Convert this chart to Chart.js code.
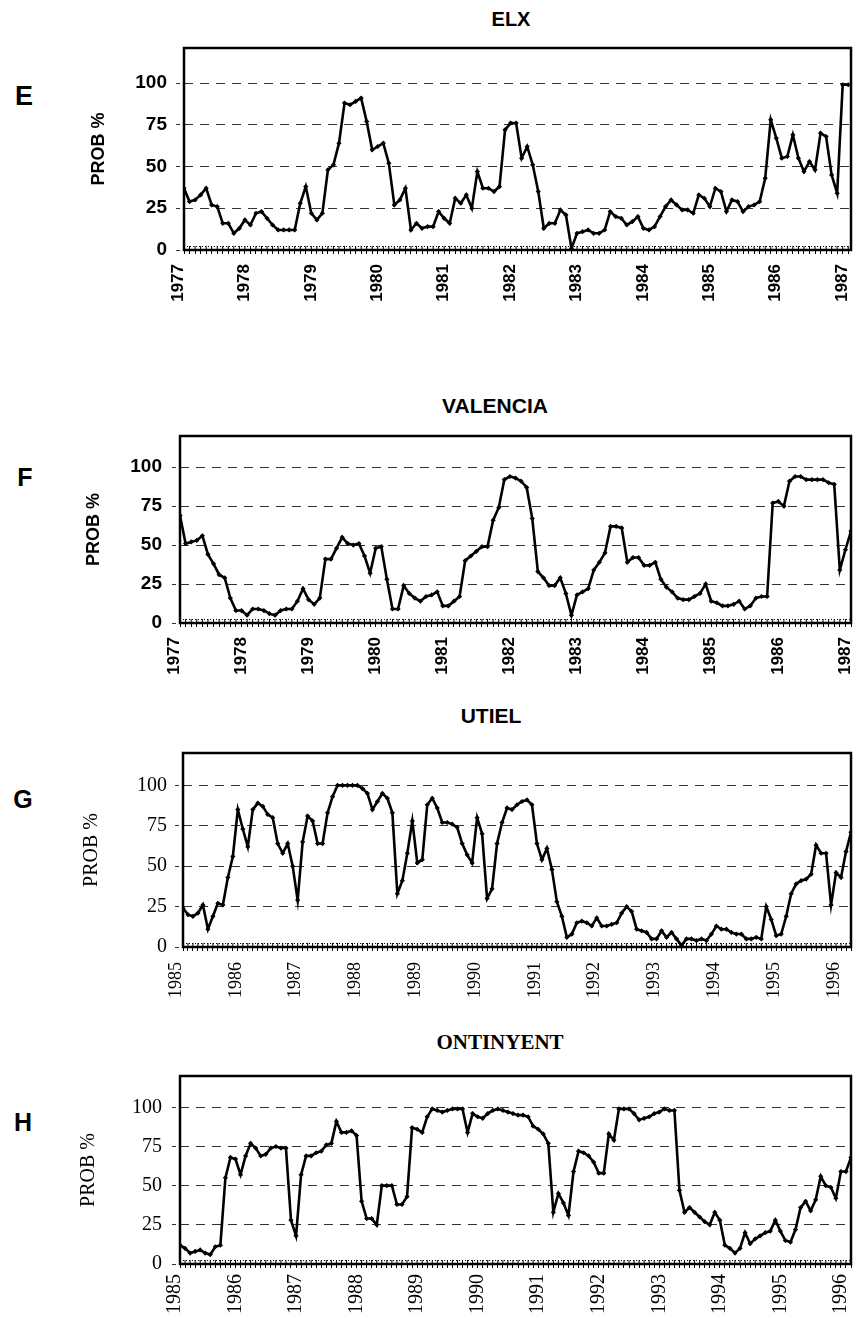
<!DOCTYPE html>
<html>
<head>
<meta charset="utf-8">
<script src="https://cdn.jsdelivr.net/npm/chart.js@4.4.1/dist/chart.umd.min.js"></script>
<style>
  body { margin: 0; background: #fff; }
  #page { position: relative; width: 855px; height: 1322px; overflow: hidden; background: #fff; }
  canvas { position: absolute; left: 0; }
  .t { position: absolute; transform: translate(-50%, -50%); line-height: 1; white-space: nowrap; color: #000; }
  .sans { font-family: 'Liberation Sans', Arial, sans-serif; font-weight: bold; }
  .serif { font-family: 'Liberation Serif', 'Times New Roman', serif; font-weight: bold; }
</style>
</head>
<body>
<div id="page">
  <div class="t sans" style="left:24px;top:96px;font-size:27px">E</div>
  <div class="t sans" style="left:511px;top:19px;font-size:20px">ELX</div>
  <div class="t sans" style="left:25px;top:477px;font-size:25px">F</div>
  <div class="t sans" style="left:495px;top:405px;font-size:21px">VALENCIA</div>
  <div class="t sans" style="left:23px;top:799px;font-size:25px">G</div>
  <div class="t sans" style="left:491px;top:715px;font-size:21px">UTIEL</div>
  <div class="t sans" style="left:23px;top:1122px;font-size:25px">H</div>
  <div class="t serif" style="left:500px;top:1042px;font-size:21px">ONTINYENT</div>
  <canvas id="cE"></canvas>
  <canvas id="cF"></canvas>
  <canvas id="cG"></canvas>
  <canvas id="cH"></canvas>
</div>
<script>
// monthly probability (%), one value per month
const elx = [
  37, 29, 30, 33, 37, 27, 26, 16, 16, 10, 13, 18,
  15, 22, 23, 19, 15, 12, 12, 12, 12, 28, 38, 22,
  18, 22, 48, 51, 64, 88, 87, 89, 91, 77, 60, 62,
  64, 52, 27, 30, 37, 12, 16, 13, 14, 14, 23, 19,
  16, 31, 28, 33, 25, 47, 37, 37, 35, 38, 72, 76,
  76, 55, 62, 51, 35, 13, 16, 16, 24, 21, 1, 10,
  11, 12, 10, 10, 12, 23, 20, 19, 15, 17, 20, 13,
  12, 14, 20, 26, 30, 27, 24, 24, 22, 33, 31, 26,
  37, 35, 23, 30, 29, 23, 26, 27, 29, 43, 78, 67,
  55, 56, 69, 55, 47, 53, 48, 70, 68, 45, 34, 99,
  99
];
const valencia = [
  69, 51, 52, 53, 56, 44, 38, 31, 29, 16, 8, 8,
  5, 9, 9, 8, 6, 5, 8, 9, 9, 14, 22, 15,
  12, 16, 41, 41, 48, 55, 51, 50, 51, 43, 32, 48,
  49, 28, 9, 9, 24, 19, 16, 14, 17, 18, 20, 11,
  11, 14, 17, 40, 43, 46, 49, 49, 66, 74, 92, 94,
  93, 91, 87, 67, 33, 29, 24, 24, 29, 19, 5, 18,
  20, 22, 34, 39, 45, 62, 62, 61, 39, 42, 42, 37,
  37, 39, 28, 23, 20, 16, 15, 15, 17, 19, 25, 14,
  13, 11, 11, 12, 14, 9, 11, 16, 17, 17, 77, 78,
  75, 91, 94, 94, 92, 92, 92, 92, 90, 89, 34, 47,
  59
];
const utiel = [
  24, 20, 19, 21, 26, 11, 19, 27, 26, 43, 56, 85,
  73, 62, 85, 89, 87, 82, 80, 64, 58, 64, 50, 29,
  65, 81, 78, 64, 64, 83, 93, 100, 100, 100, 100, 100,
  98, 95, 85, 90, 95, 92, 83, 33, 41, 58, 78, 52,
  54, 88, 92, 86, 77, 77, 76, 74, 64, 57, 52, 80,
  70, 30, 36, 64, 77, 86, 85, 88, 90, 91, 88, 64,
  54, 61, 48, 28, 19, 6, 8, 15, 16, 15, 13, 18,
  13, 13, 14, 15, 21, 25, 22, 11, 10, 9, 5, 5,
  10, 6, 9, 5, 1, 5, 5, 4, 5, 4, 8, 13,
  11, 11, 9, 8, 8, 5, 5, 6, 5, 25, 17, 7,
  8, 19, 33, 39, 41, 42, 45, 63, 58, 58, 26, 46,
  43, 59, 71
];
const ontinyent = [
  12, 10, 7, 8, 9, 7, 6, 11, 12, 55, 68, 67,
  57, 69, 77, 74, 69, 70, 74, 75, 74, 74, 28, 18,
  57, 69, 69, 71, 72, 76, 77, 91, 84, 84, 85, 82,
  40, 29, 29, 25, 50, 50, 50, 38, 38, 43, 87, 86,
  84, 94, 99, 98, 97, 98, 99, 99, 99, 84, 96, 94,
  93, 96, 98, 99, 98, 97, 96, 95, 95, 94, 88, 86,
  83, 77, 33, 45, 39, 31, 59, 72, 71, 69, 65, 58,
  58, 83, 79, 99, 99, 99, 96, 92, 93, 94, 96, 97,
  99, 98, 98, 47, 33, 36, 33, 30, 27, 25, 33, 28,
  12, 10, 7, 10, 20, 13, 16, 18, 20, 21, 28, 21,
  15, 14, 22, 36, 40, 34, 41, 56, 50, 49, 42, 59,
  59, 68
];

const years7787 = ['1977', '1978', '1979', '1980', '1981', '1982', '1983', '1984', '1985', '1986', '1987'];
const years8596 = ['1985', '1986', '1987', '1988', '1989', '1990', '1991', '1992', '1993', '1994', '1995', '1996'];
const probTicks = [0, 25, 50, 75, 100];

const SANS = "'Liberation Sans', Arial, sans-serif";
const SERIF = "'Liberation Serif', 'Times New Roman', serif";

// box round the plot plus the little month ticks inside the bottom edge
const frame = {
    id: 'frame',
    afterDraw(chart) {
        const {ctx, chartArea: a} = chart;
        const x = chart.scales.x;
        ctx.save();
        ctx.strokeStyle = '#000';
        ctx.lineWidth = 1;
        x.ticks.forEach((t, i) => {
            const px = x.getPixelForTick(i);
            ctx.beginPath();
            ctx.moveTo(px, a.bottom);
            ctx.lineTo(px, a.bottom - 4);
            ctx.stroke();
        });
        ctx.setLineDash([1, 2]);
        ctx.beginPath();
        ctx.moveTo(a.left, a.bottom - 3.5);
        ctx.lineTo(a.right, a.bottom - 3.5);
        ctx.stroke();
        ctx.setLineDash([]);
        ctx.lineWidth = 2.5;
        ctx.strokeRect(a.left, a.top, a.right - a.left, a.bottom - a.top);
        ctx.restore();
    }
};

const panels = [
    {id: 'cE', top: 0, h: 320, left: 184, right: 1, padTop: 48, axisH: 70, vals: elx, years: years7787,
     yMax: 121, xExtra: 0.5, font: SANS, bold: true, yFont: 19, xFont: 17, titleSize: 18, titlePad: 88,
     yPad: 9, xPad: 10, xShift: -6},
    {id: 'cF', top: 380, h: 310, left: 180, right: 3, padTop: 56, axisH: 67, vals: valencia, years: years7787,
     yMax: 120, xExtra: 0, font: SANS, bold: true, yFont: 19, xFont: 17, titleSize: 18, titlePad: 83,
     yPad: 10, xPad: 10, xShift: -6},
    {id: 'cG', top: 690, h: 320, left: 183, right: 3, padTop: 63, axisH: 63, vals: utiel, years: years8596,
     yMax: 120, xExtra: 0, font: SERIF, bold: false, yFont: 20, xFont: 18, titleSize: 20, titlePad: 80,
     yPad: 8, xPad: 11, xShift: -7},
    {id: 'cH', top: 1010, h: 312, left: 180, right: 2, padTop: 66, axisH: 58, vals: ontinyent, years: years8596,
     yMax: 120, xExtra: 0, font: SERIF, bold: false, yFont: 20, xFont: 20, titleSize: 20, titlePad: 77,
     yPad: 10, xPad: 6, xShift: -5}
];

panels.forEach(p => {
    const cv = document.getElementById(p.id);
    cv.width = 855;
    cv.height = p.h;
    cv.style.top = p.top + 'px';
    const weight = p.bold ? 'bold' : 'normal';

    new Chart(cv, {
        type: 'line',
        data: {
            datasets: [{
                data: p.vals.map((v, i) => ({x: i, y: v})),
                borderColor: '#000',
                borderWidth: 2.6,
                pointStyle: 'rectRot',
                pointRadius: 2.6,
                pointBackgroundColor: '#000',
                pointBorderWidth: 0,
                tension: 0
            }]
        },
        options: {
            responsive: false,
            animation: false,
            events: [],
            layout: {padding: {top: p.padTop, left: 0, right: p.right, bottom: 0}},
            plugins: {legend: {display: false}, tooltip: {enabled: false}},
            scales: {
                x: {
                    type: 'linear',
                    min: 0,
                    max: p.vals.length - 1 + p.xExtra,
                    afterBuildTicks: s => { s.ticks = p.vals.map((v, i) => ({value: i})); },
                    afterFit: s => { s.height = p.axisH; s.paddingLeft = 0; s.paddingRight = 0; },
                    ticks: {
                        autoSkip: false,
                        minRotation: 90,
                        maxRotation: 90,
                        padding: p.xPad,
                        labelOffset: p.xShift,
                        color: '#000',
                        font: {family: p.font, size: p.xFont, weight: weight},
                        callback: v => (v % 12 === 0 && p.years[v / 12]) ? p.years[v / 12] : ''
                    },
                    grid: {drawOnChartArea: false, tickLength: 4, tickColor: '#000', tickWidth: 1},
                    border: {display: false}
                },
                y: {
                    min: 0,
                    max: p.yMax,
                    afterBuildTicks: s => { s.ticks = probTicks.map(v => ({value: v})); },
                    afterFit: s => { s.width = p.left; s.paddingTop = 0; s.paddingBottom = 0; },
                    ticks: {
                        padding: p.yPad,
                        color: '#000',
                        font: {family: p.font, size: p.yFont, weight: weight}
                    },
                    grid: {color: '#333', lineWidth: 1, tickLength: 8, tickColor: '#333', tickBorderDash: [4, 3]},
                    border: {display: false, dash: [9, 7]},
                    title: {
                        display: true,
                        text: 'PROB %',
                        color: '#000',
                        font: {family: p.font, size: p.titleSize, weight: weight},
                        padding: {top: p.titlePad, bottom: 0}
                    }
                }
            }
        },
        plugins: [frame]
    });
});
</script>
</body>
</html>
